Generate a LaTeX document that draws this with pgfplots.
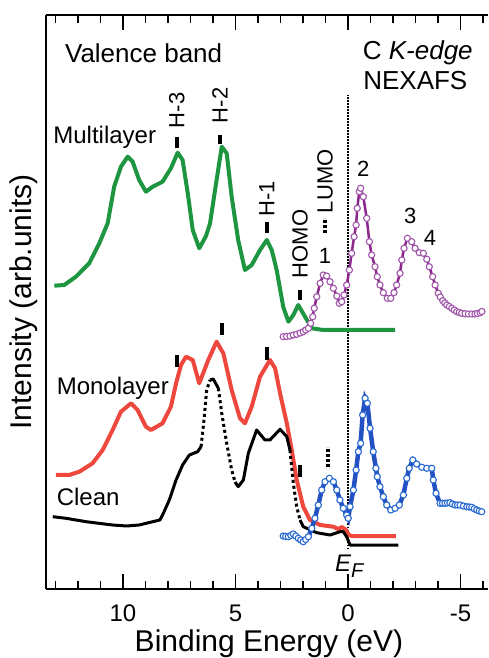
\documentclass[border=0pt]{standalone}
\usepackage{pgfplots}
\pgfplotsset{compat=1.18}
\usepackage{fontspec}
\setmainfont{Liberation Sans}
\definecolor{mgreen}{RGB}{30,150,65}
\definecolor{mred}{RGB}{238,72,62}
\definecolor{mpurple}{RGB}{140,40,140}
\definecolor{mpurplec}{RGB}{160,85,170}
\definecolor{mblue}{RGB}{35,80,195}
\definecolor{mbluec}{RGB}{40,105,210}
\begin{document}
\begin{tikzpicture}
\useasboundingbox (-46pt,-69pt) rectangle (442pt,589pt);
\begin{axis}[
 scale only axis, width=442pt, height=574pt,
 at={(0,0)}, anchor=south west,
 x dir=reverse, xmin=-6.22, xmax=13.42, ymin=0, ymax=574,
 axis x line*=box, axis y line*=left,
 axis line style={line width=1.5pt,-},
 ytick=\empty,
 xtick={-5,0,5,10}, xticklabels={-5,0,5,10},
 minor xtick={-6,-4,-3,-2,-1,1,2,3,4,6,7,8,9,11,12,13},
 tick align=inside,
 major tick length=15pt, minor tick length=8pt,
 tick style={black, line width=1.5pt},
 xticklabel style={font=\fontsize{24}{24}\selectfont, anchor=base, yshift=-32.7pt, inner sep=0pt},
 xlabel={Binding Energy (eV)},
 xlabel style={font=\fontsize{30}{30}\selectfont, at={(axis description cs:0.5045,-0.109)}, anchor=base, inner sep=0pt},
 ylabel={Intensity (arb.units)},
 ylabel style={font=\fontsize{30}{30}\selectfont, at={(axis description cs:-0.05,0.5)}, anchor=center},
 clip=false,
]
% E_F dotted line
\addplot[black, line width=1.2pt, dash pattern=on 1.5pt off 1.5pt] coordinates {(0,40) (0,494)};

% Multilayer (green)
\addplot[mgreen, line width=4pt, line join=round] coordinates {
(13.05,303.3) (12.61,304) (12.09,312.3) (11.50,325.7) (11.05,345.7) (10.68,365.7)
(10.39,402.3) (10.09,422.3) (9.79,432.3) (9.57,427.3) (9.28,409) (8.98,397.3)
(8.68,402.3) (8.24,407.3) (7.87,420.7) (7.57,436.3) (7.35,429) (7.12,395.7)
(6.90,359) (6.61,340.7) (6.31,353) (6.13,365.7) (5.84,409) (5.61,442.3)
(5.39,435.7) (5.17,392.3) (4.88,349) (4.58,319) (4.28,324) (3.91,339)
(3.61,349) (3.39,339) (3.17,319) (2.88,282.3) (2.65,267.3) (2.43,274)
(2.21,284) (1.91,272.3) (1.61,260.7) (1.10,259) (-0.09,259) (-2.09,259)};

% Monolayer (red)
\addplot[mred, line width=4pt, line join=round] coordinates {
(12.98,114) (12.39,114) (11.94,117.3) (11.35,125.7) (10.90,139) (10.46,159)
(10.09,177.3) (9.64,185.7) (9.35,179) (8.98,162.3) (8.76,159) (8.24,165.7)
(7.87,182.3) (7.64,205.7) (7.42,224) (7.20,232.3) (6.90,229) (6.61,205.7)
(6.21,229) (5.84,247.3) (5.54,235.7) (5.17,199) (4.80,170.7) (4.58,165.7)
(4.28,182.3) (3.91,212.3) (3.47,229) (3.24,220.7) (3.02,195.7) (2.72,165.7)
(2.50,139) (2.28,109) (1.99,82.3) (1.69,69) (1.24,64) (0.65,62.3)
(0.44,60) (0.27,62) (0.09,59) (-0.04,54) (-0.18,53) (-2.13,53)};

% Clean (black), solid and dotted pieces
\addplot[black, line width=3pt, line join=round] coordinates {
(13.12,72.3) (12.53,70.7) (11.64,67.3) (10.46,64) (9.84,63) (9.28,64)
(8.68,67.3) (8.36,69) (8.24,74) (7.94,89) (7.64,109) (7.35,124)
(7.05,134) (6.68,137.3) (6.53,142.3)};
\addplot[black, line width=3pt, dash pattern=on 3pt off 3pt] coordinates {
(6.53,142.3) (6.40,169) (6.28,199) (6.13,209)};
\addplot[black, line width=3pt, line join=round] coordinates {
(6.13,209) (5.99,210) (5.76,200.7)};
\addplot[black, line width=3pt, dash pattern=on 3pt off 3pt] coordinates {
(5.76,200.7) (5.61,175.7) (5.39,145.7) (5.17,119) (5.02,107)};
\addplot[black, line width=3pt, line join=round] coordinates {
(5.02,107) (4.88,102.3) (4.65,109) (4.43,135.7) (4.06,159) (3.69,149)
(3.47,149) (3.02,159.7) (2.72,152.3) (2.58,139)};
\addplot[black, line width=3pt, dash pattern=on 3pt off 3pt] coordinates {
(2.58,139) (2.43,105.7) (2.28,82.3) (2.13,69)};
\addplot[black, line width=3pt, line join=round] coordinates {
(2.13,69) (1.99,62.3) (1.39,56.3) (0.80,54) (0.36,57.3) (0.21,57.3)
(0.06,52.3) (-0.09,44) (-2.24,44)};

% NEXAFS multilayer (purple)
\addplot[mpurple, line width=2.5pt, mark=*, mark size=3.1pt,
 mark options={draw=mpurplec, fill=white, line width=1.1pt, solid}] coordinates {
(2.88,252.3) (2.73,252.5) (2.58,253) (2.43,254) (2.28,254.7) (2.13,256) (1.99,257.3)
(1.88,259) (1.76,260.7) (1.66,265.7)
(1.57,272.3) (1.50,280.7) (1.39,292.3) (1.24,305.7) (1.10,314) (0.95,313)
(0.80,307.3) (0.65,300.7) (0.50,293) (0.39,285.7) (0.28,287.3) (0.18,294)
(0.06,304) (-0.06,319) (-0.16,335.7) (-0.27,352.3) (-0.36,364) (-0.41,380.7)
(-0.50,397.3) (-0.56,400.7) (-0.68,392.3) (-0.83,370.7) (-0.95,347.3) (-1.05,334)
(-1.20,322.3) (-1.30,312.3) (-1.42,304) (-1.57,296.3) (-1.75,290.7) (-1.90,290.7)
(-2.04,296.3) (-2.16,304) (-2.31,315.7) (-2.39,329) (-2.49,340.7) (-2.64,350.7)
(-2.83,347.3) (-2.98,340.7) (-3.17,336.3) (-3.35,335.7) (-3.50,329.7) (-3.61,322.3)
(-3.76,312.3) (-3.87,304) (-4.01,295.7) (-4.10,292) (-4.21,288.3) (-4.30,286)
(-4.39,284) (-4.50,282.5) (-4.61,280.7) (-4.72,279) (-4.83,277.3) (-4.94,276.5)
(-5.05,275.7) (-5.20,275.3) (-5.35,275) (-5.50,275) (-5.64,275) (-5.75,275.5)
(-5.87,276.3) (-5.95,277.5)};

% NEXAFS monolayer (blue)
\addplot[mblue, line width=4.5pt, mark=*, mark size=3.1pt,
 mark options={draw=mbluec, fill=white, line width=1.1pt, solid}] coordinates {
(2.88,53) (2.77,52.6) (2.65,52.3) (2.54,53.6) (2.43,55) (2.32,53) (2.21,50.7)
(2.10,49) (1.99,47.3) (1.88,49.5) (1.76,52.3)
(1.61,60.7) (1.47,70.7) (1.32,84) (1.17,99) (1.02,107.3) (0.83,110.7)
(0.65,107.3) (0.50,99) (0.36,89) (0.21,80.7) (0.06,74) (-0.01,70.7)
(-0.09,82.3) (-0.24,99) (-0.36,119) (-0.46,137.3) (-0.56,145.7) (-0.65,174)
(-0.76,190.7) (-0.86,185.7) (-0.98,160.7) (-1.12,137.3) (-1.24,120.7) (-1.30,112.3)
(-1.42,102.3) (-1.57,92.3) (-1.72,84) (-1.90,79) (-2.09,80.7) (-2.28,84)
(-2.46,94) (-2.61,110.7) (-2.72,120.7) (-2.88,129) (-3.05,125) (-3.28,121.7)
(-3.50,120.7) (-3.72,120.7) (-3.79,109) (-3.91,95.7) (-4.09,85.7) (-4.20,85.7)
(-4.31,85.7) (-4.42,86) (-4.53,86.3) (-4.64,85) (-4.76,84) (-4.87,84) (-4.98,84)
(-5.13,83) (-5.28,82.3) (-5.39,82) (-5.50,81.7) (-5.61,80.3) (-5.72,79)
(-5.83,78) (-5.94,77.3)};

% peak bars (multilayer)
\draw[black, line width=4.5pt] (axis cs:7.61,440.7) -- (axis cs:7.61,452.3);
\draw[black, line width=4.5pt] (axis cs:5.69,445) -- (axis cs:5.69,454);
\draw[black, line width=4.5pt] (axis cs:3.61,355.7) -- (axis cs:3.61,367.3);
\draw[black, line width=4.5pt] (axis cs:2.13,289) -- (axis cs:2.13,299);
\draw[black, line width=4pt, dash pattern=on 3pt off 2pt] (axis cs:1.02,356) -- (axis cs:1.02,371);
% peak bars (monolayer)
\draw[black, line width=4.5pt] (axis cs:7.61,222.3) -- (axis cs:7.61,234);
\draw[black, line width=4.5pt] (axis cs:5.61,254) -- (axis cs:5.61,266.3);
\draw[black, line width=4.5pt] (axis cs:3.61,229) -- (axis cs:3.61,242.3);
\draw[black, line width=4.5pt] (axis cs:2.13,112.3) -- (axis cs:2.13,124);
\draw[black, line width=4pt, dash pattern=on 3pt off 2pt] (axis cs:0.87,122.3) -- (axis cs:0.87,142.3);

% rotated labels
\begin{scope}[every node/.style={font=\fontsize{22}{22}\selectfont, rotate=90, anchor=west, inner sep=0pt}]
\node at (axis cs:7.61,460.7) {H-3};
\node at (axis cs:5.69,465.7) {H-2};
\node at (axis cs:3.61,372.3) {H-1};
\node at (axis cs:2.13,310.7) {HOMO};
\node at (axis cs:1.02,375.7) {LUMO};
\end{scope}

% texts
\begin{scope}[every node/.style={anchor=base west, inner sep=0pt}]
\node[font=\fontsize{26}{26}\selectfont] at (axis cs:12.58,526) {Valence band};
\node[font=\fontsize{26}{26}\selectfont] at (axis cs:-0.65,529) {C \textit{K-edge}};
\node[font=\fontsize{26}{26}\selectfont] at (axis cs:-0.67,499) {NEXAFS};
\node[font=\fontsize{24}{24}\selectfont] at (axis cs:13.1,445) {Multilayer};
\node[font=\fontsize{24}{24}\selectfont] at (axis cs:12.95,194) {Monolayer};
\node[font=\fontsize{24}{24}\selectfont] at (axis cs:12.95,83.3) {Clean};
\node[font=\fontsize{24}{24}\selectfont] at (axis cs:0.58,17.3) {\itshape E\raisebox{-6pt}{\fontsize{20}{20}\selectfont F}};
\end{scope}
\begin{scope}[every node/.style={anchor=base, inner sep=0pt, font=\fontsize{22}{22}\selectfont}]
\node at (axis cs:1.02,325.7) {1};
\node at (axis cs:-0.68,412.3) {2};
\node at (axis cs:-2.76,365.7) {3};
\node at (axis cs:-3.64,343) {4};
\end{scope}
\end{axis}
\end{tikzpicture}
\end{document}
